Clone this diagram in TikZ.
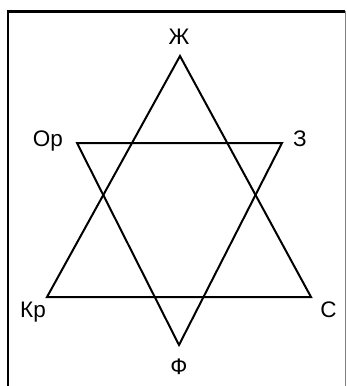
\documentclass[tikz,border=0pt]{standalone}
\usepackage{fontspec}
\setmainfont{Liberation Sans}
\begin{document}
\begin{tikzpicture}[x=1pt,y=-1pt,
  lbl/.style={font=\fontsize{22.5}{26}\selectfont, inner sep=0pt, anchor=base},
  edge/.style={line width=2pt, line join=miter}]
\useasboundingbox (0,0) rectangle (347,386);
% frame
\draw[line width=2.6pt] (8,390) -- (8,11.5) -- (345,11.5);
\draw[line width=1pt, gray] (345.5,11) -- (345.5,390);
% vertices
\coordinate (Zh) at (180,56);
\coordinate (Kr) at (47,297);
\coordinate (S) at (311,297);
\coordinate (Or) at (77,143);
\coordinate (Z) at (282,143);
\coordinate (F) at (179,345);
\draw[edge] (Zh) -- (Kr) -- (S) -- cycle;
\draw[edge] (Or) -- (Z) -- (F) -- cycle;
% labels
\node[lbl] (lZh) at (179,44) {Ж};
\node[lbl] (lOr) at (48,146.5) {Ор};
\node[lbl] (lZ) at (300,146.5) {З};
\node[lbl] (lKr) at (33,317.5) {Кр};
\node[lbl] (lS) at (328.5,317.5) {С};
\node[lbl] (lF) at (179,374) {Ф};
\end{tikzpicture}
\end{document}
